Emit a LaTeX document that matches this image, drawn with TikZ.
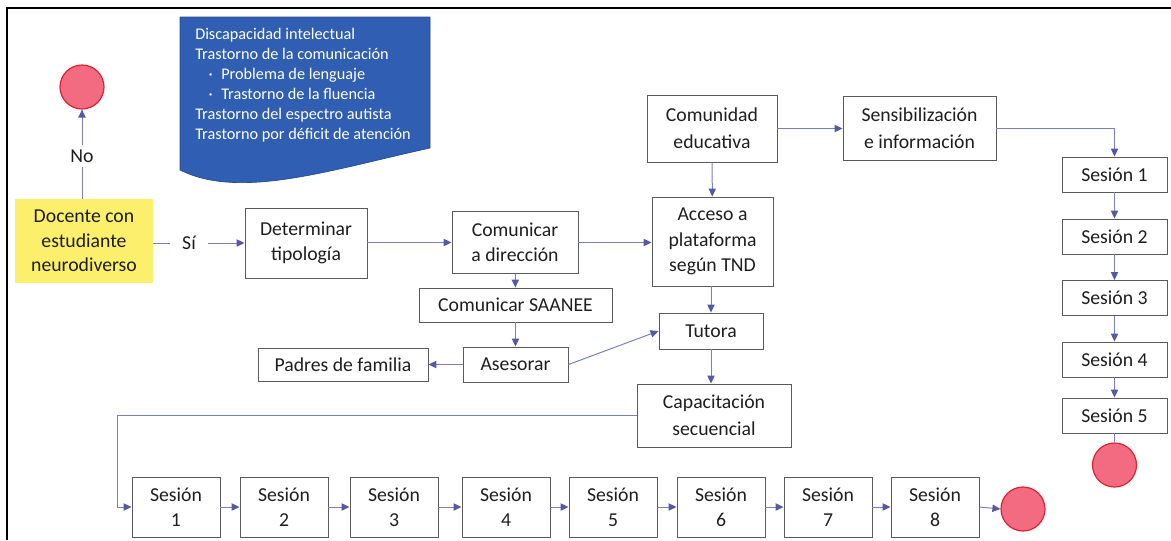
\documentclass[tikz,border=0pt]{standalone}
\usepackage{fontspec}
\setmainfont{Carlito}
\usetikzlibrary{arrows.meta}
\definecolor{lnk}{HTML}{7A7EC6}
\definecolor{tipc}{HTML}{5558A8}
\definecolor{bgray}{HTML}{5A5A5A}
\definecolor{txt}{HTML}{1E1E1E}
\definecolor{docblue}{HTML}{2F5EB3}
\definecolor{yel}{HTML}{FCEF6C}
\definecolor{redf}{HTML}{F26B80}
\definecolor{redd}{HTML}{E3202F}
\begin{document}
\begin{tikzpicture}[x=0.75pt,y=-0.75pt,
  box/.style={draw=bgray, line width=0.7pt, inner sep=0pt, align=center, text=txt, font=\fontsize{14.8}{19}\selectfont},
  sz/.style 2 args={minimum width=#1*0.75pt, minimum height=#2*0.75pt},
  endc/.style={circle, fill=redf, draw=redd, line width=0.9pt, minimum size=33pt, inner sep=0pt},
  lbl/.style={text=txt, font=\fontsize{14.8}{19}\selectfont, inner sep=3pt},
  link/.style={draw=lnk, line width=0.75pt},
  arr/.style={link, -{Triangle[length=6pt,width=5.5pt,color=tipc]}},
]
\useasboundingbox (0,0) rectangle (1171,540);
% frame
\draw[line width=1.6pt, black] (7,540) -- (7,8) -- (1171,8);

% blue document shape
\path[fill=docblue, draw=docblue!80!black, line width=0.5pt]
  (180,17) -- (430,17) -- (430,148) .. controls (330,170) and (240,200) .. (180,170) -- cycle;
\node[anchor=north west, text=white, align=left, inner sep=0pt,
      font=\fontsize{12.2}{15}\selectfont] (tnd) at (195,28)
  {Discapacidad intelectual\\
   Trastorno de la comunicación\\
   \hspace*{10pt}\makebox[9.5pt][l]{·}Problema de lenguaje\\
   \hspace*{10pt}\makebox[9.5pt][l]{·}Trastorno de la fluencia\\
   Trastorno del espectro autista\\
   Trastorno por déficit de atención};

% nodes
\node[endc] (endA) at (82,87) {};
\node[lbl] (no) at (82,156) {No};
\node[fill=yel, sz={138}{84}, align=center, inner sep=0pt, text=txt,
      font=\fontsize{14.8}{18.5}\selectfont] (doc) at (84,241) {Docente con\\estudiante\\neurodiverso};
\node[lbl, inner xsep=9pt] (si) at (189,243) {Sí};
\node[box, sz={122}{70}] (det) at (306,243) {Determinar\\tipología};
\node[box, sz={126}{62}] (com) at (515,242.5) {Comunicar\\a dirección};
\node[box, sz={121}{89}] (acc) at (712.5,241.5) {Acceso a\\plataforma\\según TND};
\node[box, sz={130}{67}, font=\fontsize{14.8}{20}\selectfont] (comu) at (712,128.5) {Comunidad\\educativa};
\node[box, sz={153}{64}, font=\fontsize{14.8}{20}\selectfont] (sens) at (919.5,128.5) {Sensibilización\\e información};
\node[box, sz={193}{34}] (saanee) at (515.5,305) {Comunicar SAANEE};
\node[box, sz={105}{35}] (ases) at (515.5,364.5) {Asesorar};
\node[box, sz={170}{33}] (padres) at (343,364.5) {Padres de familia};
\node[box, sz={104}{36}] (tutora) at (711,331) {Tutora};
\node[box, sz={154}{63}, font=\fontsize{14.8}{20}\selectfont] (cap) at (714,415.5) {Capacitación\\secuencial};

% right column sessions
\foreach \i/\yy in {1/174.5,2/236.5,3/298,4/359.5,5/415.5}
  \node[box, sz={105}{35}] (r\i) at (1114.5,\yy) {Sesión \i};
\node[endc] (endR) at (1114.5,465) {};

% bottom row sessions
\foreach \i/\xx in {1/176,2/284,3/394,4/506,5/613,6/721,7/828,8/935}
  \node[box, sz={88}{60}] (b\i) at (\xx,507) {Sesión\\\i};
\node[endc] (endB) at (1023,509) {};

\coordinate (bend) at (117,415.5);

% connectors
\draw[link] (no |- doc.north) -- (no.south);
\draw[arr] (no.north) -- (endA.south);
\draw[link] (doc.east |- si) -- (si.west);
\draw[arr] (si.east) -- (si -| det.west);
\draw[arr] (det.east |- com) -- (com.west);
\draw[arr] (com.east) -- (com.east -| acc.west);
\draw[arr] (comu) -- (acc);
\draw[arr] (comu.east) -- (comu.east -| sens.west);
\draw[arr] (sens.east) -| (r1.north);
\foreach \i [evaluate=\i as \j using int(\i+1)] in {1,...,4}
  \draw[arr] (r\i) -- (r\j);
\draw[link] (r5) -- (endR);
\draw[arr] (com) -- (saanee);
\draw[arr] (saanee) -- (ases);
\draw[arr] (ases) -- (padres);
\draw[arr] (ases.east) -- (tutora.west);
\draw[arr] (acc.south -| tutora) -- (tutora.north);
\draw[arr] (tutora.south) -- (tutora.south |- cap.north);
\draw[link] (cap.west) -- (bend);
\draw[arr] (bend) |- (b1.west);
\foreach \i [evaluate=\i as \j using int(\i+1)] in {1,...,7}
  \draw[arr] (b\i.east) -- (b\j.west);
\draw[arr] (b8.east) -- (endB.west);
\end{tikzpicture}
\end{document}
